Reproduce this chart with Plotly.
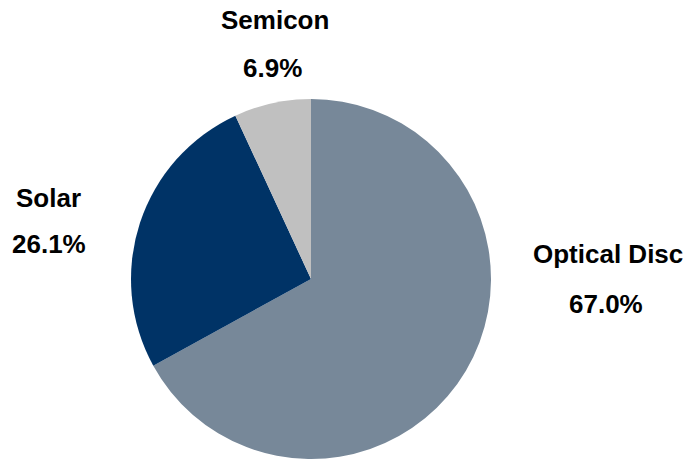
import plotly.graph_objects as go

categories = ["Optical Disc", "Solar", "Semicon"]
shares = [67.0, 26.1, 6.9]
colors = ["#778899", "#003366", "#C0C0C0"]
# label anchor positions (paper coordinates) for the outside labels
name_x = [0.885, 0.071, 0.400]
name_y = [0.447, 0.569, 0.956]
value_x = [0.882, 0.071, 0.397]
value_y = [0.338, 0.468, 0.852]

fig = go.Figure(go.Pie(
    labels=categories,
    values=shares,
    sort=False,
    direction="clockwise",
    rotation=0,
    marker=dict(colors=colors, line=dict(width=0)),
    textinfo="none",
    hoverinfo="label+percent",
    domain=dict(x=[131/687, 491/687], y=[0, 360/459]),
    showlegend=False,
))

font = dict(family="Liberation Sans, Arial, sans-serif", size=26, color="#000000")
for name, v, nx, ny, vx, vy in zip(categories, shares, name_x, name_y, value_x, value_y):
    fig.add_annotation(x=nx, y=ny, xref="paper", yref="paper",
                       text=f"<b>{name}</b>", showarrow=False,
                       font=font, xanchor="center", yanchor="middle")
    fig.add_annotation(x=vx, y=vy, xref="paper", yref="paper",
                       text=f"<b>{v:.1f}%</b>", showarrow=False,
                       font=font, xanchor="center", yanchor="middle")

fig.update_layout(
    width=687, height=459,
    margin=dict(l=0, r=0, t=0, b=0),
    paper_bgcolor="white", plot_bgcolor="white",
)

fig.write_html("out.html")
